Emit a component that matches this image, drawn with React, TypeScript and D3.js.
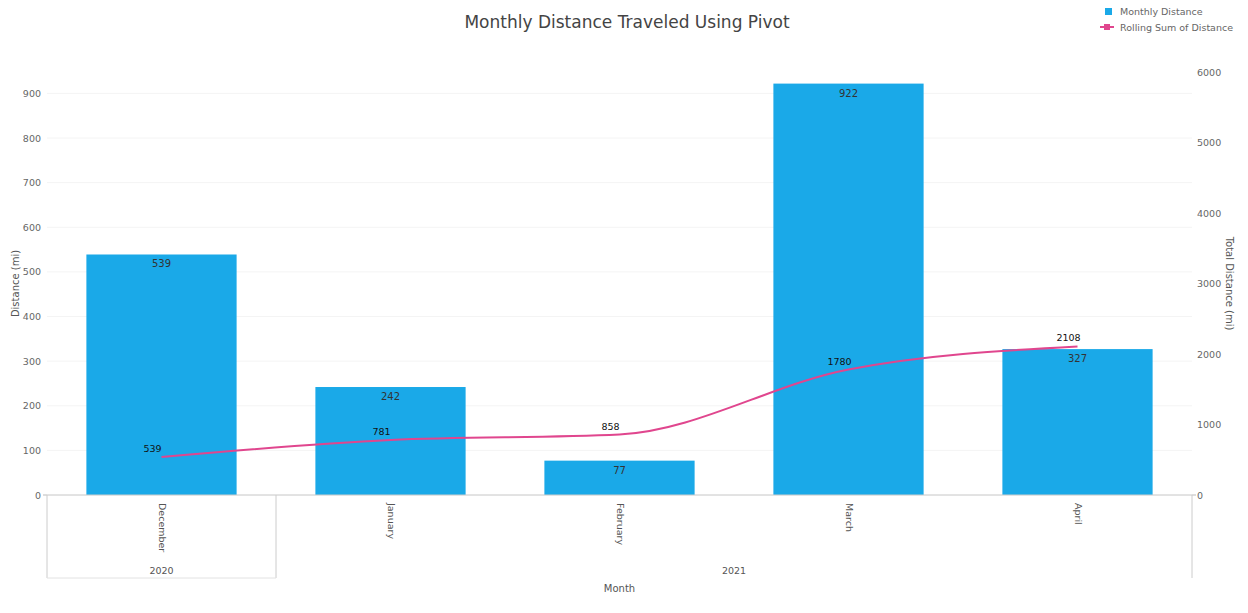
import React from "react";
import * as d3 from "d3";

const months = ["December", "January", "February", "March", "April"];
const years = ["2020", "2021", "2021", "2021", "2021"];
const monthlyDistance = [539, 242, 77, 922, 327];
const rollingSum = [539, 781, 858, 1780, 2108];
const leftTicks = [0, 100, 200, 300, 400, 500, 600, 700, 800, 900];
const rightTicks = [0, 1000, 2000, 3000, 4000, 5000, 6000];

const W = 1248, H = 613;
const L = 47, R = 1192, T = 72, B = 495;
const FONT = "'DejaVu Sans', Verdana, sans-serif";

export default function App() {
  const x = d3.scaleBand<string>().domain(months).range([L, R]).paddingInner(0.344).paddingOuter(0.172);
  const yL = d3.scaleLinear().domain([0, 948]).range([B, T]);
  const yR = d3.scaleLinear().domain([0, 6000]).range([B, T]);
  const cx = (m: string) => (x(m) as number) + x.bandwidth() / 2;
  const line = d3.line<number>().x((_, i) => cx(months[i])).y((d) => yR(d)).curve(d3.curveMonotoneX);

  const groups: { year: string; start: number; end: number }[] = [];
  years.forEach((y, i) => {
    const g = groups[groups.length - 1];
    if (g && g.year === y) g.end = i;
    else groups.push({ year: y, start: i, end: i });
  });
  const step = x.step();
  const edgeX = (i: number) => L + step * i;

  return (
    <svg width={W} height={H} style={{ position: "absolute", left: 0, top: 0, background: "#fff" }} fontFamily={FONT}>
      <rect width={W} height={H} fill="#fff" />
      <text x={627} y={28} textAnchor="middle" fontSize={17} fill="#444">Monthly Distance Traveled Using Pivot</text>
      {/* legend */}
      <rect x={1105} y={8} width={7} height={7} fill="#1aa9e8" />
      <text x={1120} y={15} fontSize={9.5} fill="#666">Monthly Distance</text>
      <line x1={1100} y1={27} x2={1114} y2={27} stroke="#e0468e" strokeWidth={2} />
      <rect x={1104} y={24} width={6} height={6} fill="#e0468e" />
      <text x={1120} y={31} fontSize={9.5} fill="#666">Rolling Sum of Distance</text>

      {/* gridlines */}
      {leftTicks.map((t) => (
        <line key={"g" + t} x1={L} x2={R} y1={yL(t)} y2={yL(t)} stroke="#f4f4f4" />
      ))}

      {/* bars */}
      {monthlyDistance.map((v, i) => (
        <rect key={"b" + i} x={x(months[i])} y={yL(v)} width={x.bandwidth()} height={B - yL(v)} fill="#1aa9e8" />
      ))}
      {monthlyDistance.map((v, i) => (
        <text key={"bl" + i} x={cx(months[i])} y={yL(v) + 13} textAnchor="middle" fontSize={10} fill="#333">{v}</text>
      ))}

      {/* line */}
      <path d={line(rollingSum) || ""} fill="none" stroke="#e0468e" strokeWidth={2} />
      {rollingSum.map((v, i) => (
        <text key={"ll" + i} x={cx(months[i]) - 9} y={yR(v) - 5} textAnchor="middle" fontSize={9.5} fill="#111">{v}</text>
      ))}

      {/* left axis */}
      {leftTicks.map((t) => (
        <text key={"lt" + t} x={41} y={yL(t) + 3.5} textAnchor="end" fontSize={9.5} fill="#666">{t}</text>
      ))}
      <line x1={L - 4} x2={L} y1={B} y2={B} stroke="#bbb" />
      <text transform={`translate(19,${(T + B) / 2}) rotate(-90)`} textAnchor="middle" fontSize={10} fill="#555">Distance (mi)</text>

      {/* right axis */}
      {rightTicks.map((t) => (
        <text key={"rt" + t} x={1197} y={yR(t) + 3.5} textAnchor="start" fontSize={9.5} fill="#666">{t}</text>
      ))}
      <line x1={R} x2={R + 4} y1={B} y2={B} stroke="#bbb" />
      <text transform={`translate(1226,${(T + B) / 2}) rotate(90)`} textAnchor="middle" fontSize={10} fill="#555">Total Distance (mi)</text>

      {/* x axis */}
      <line x1={L} x2={R} y1={B} y2={B} stroke="#ccc" />
      {months.map((m) => (
        <text key={"m" + m} transform={`translate(${cx(m) - 3},${B + 8}) rotate(90)`} textAnchor="start" fontSize={9.5} fill="#555">{m}</text>
      ))}
      {groups.map((g, i) => (
        <g key={"yg" + i}>
          <line x1={edgeX(g.start)} x2={edgeX(g.start)} y1={B} y2={578} stroke="#ccc" />
          <text x={(edgeX(g.start) + edgeX(g.end + 1)) / 2} y={574} textAnchor="middle" fontSize={9.5} fill="#555">{g.year}</text>
        </g>
      ))}
      <line x1={R} x2={R} y1={B} y2={578} stroke="#ccc" />
      <line x1={L} x2={edgeX(1)} y1={578} y2={578} stroke="#e2e2e2" />
      <text x={(L + R) / 2} y={592} textAnchor="middle" fontSize={10} fill="#555">Month</text>
    </svg>
  );
}
